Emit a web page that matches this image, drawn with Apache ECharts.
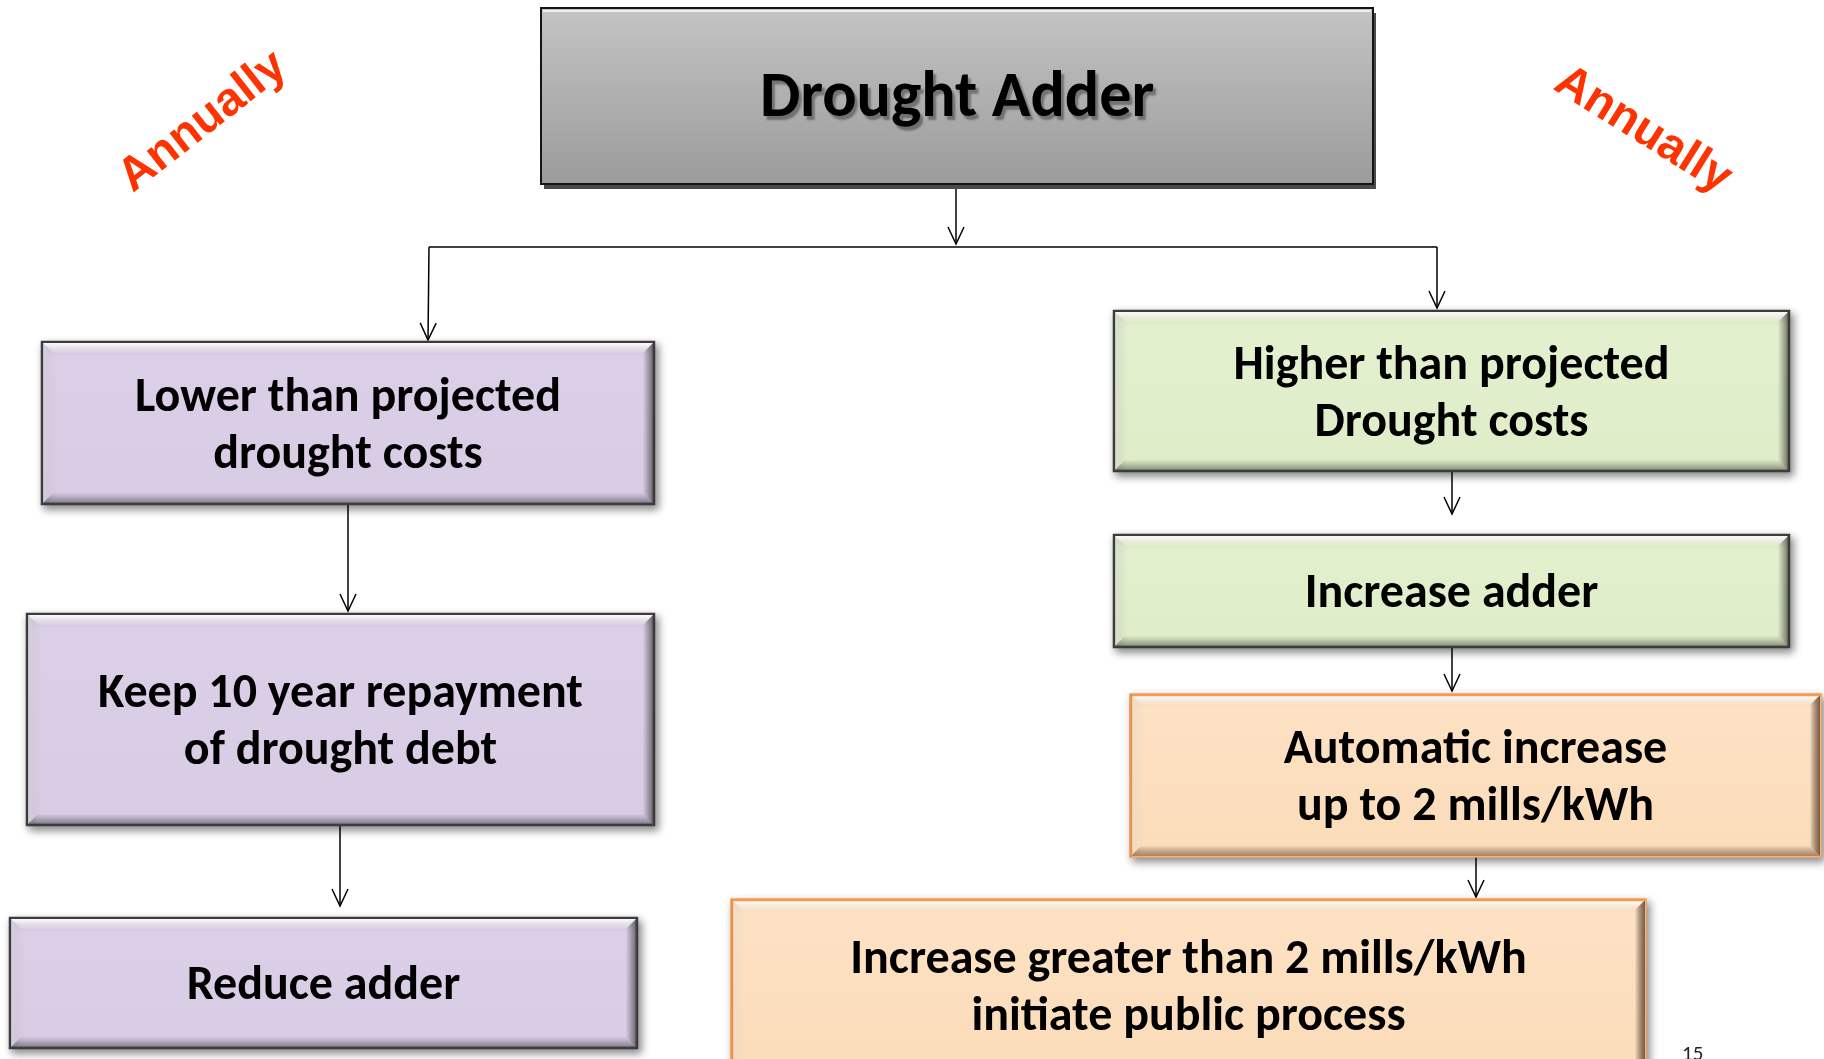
<!DOCTYPE html>
<html><head><meta charset="utf-8">
<script src="https://cdn.jsdelivr.net/npm/echarts@6/dist/echarts.min.js"></script>
<style>html,body{margin:0;padding:0;background:#fff}#c{width:1824px;height:1059px}</style>
</head><body><div id="c"></div>
<script>
// ---- content ----
const nodeTexts = [
  'Drought Adder',
  'Lower than projected\ndrought costs',
  'Keep 10 year repayment\nof drought debt',
  'Reduce adder',
  'Higher than projected\nDrought costs',
  'Increase adder',
  'Automatic increase\nup to 2 mills/kWh',
  'Increase greater than 2 mills/kWh\ninitiate public process'
];
const nodeKinds = ['title', 'lower', 'lower', 'lower', 'higher', 'higher', 'auto', 'auto'];
const noteTexts = ['Annually', 'Annually'];
const pageLabel = '15';

// ---- layout (chart units = pixels of the 1824x1059 canvas) ----
const boxLeft   = [541,   42,  27,  10, 1114, 1114, 1130,  731];
const boxTop    = [  8,  342, 614, 918,  311,  535,  694,  899];
const boxRight  = [1373, 654, 654, 637, 1789, 1789, 1821, 1646];
const boxBottom = [184,  504, 825, 1048, 471,  647,  857, 1071];
const connectorPaths = [
  [[956, 184], [956, 244]],
  [[429, 247], [1437, 247]],
  [[429, 247], [428, 340]],
  [[1437, 247], [1437, 308]],
  [[348, 504], [348, 611]],
  [[340, 825], [340, 906]],
  [[1452, 471], [1452, 514]],
  [[1452, 647], [1452, 691]],
  [[1476, 857], [1476, 897]]
];
const connectorArrow = [true, false, true, true, true, true, true, true, true];
const notePos = [[203, 122], [1643, 130]];
const noteAngle = [38, -32];
const pagePos = [1682, 1044];

const FONT = 'Carlito, Lato, "Open Sans", sans-serif';
const styles = {
  title:  { fill: ['#c4c4c4', '#9b9b9b'], stroke: '#151515' },
  lower:  { fill: ['#dcd0e8', '#d8cbe4'], stroke: '#3c3c3c' },
  higher: { fill: ['#e4f1cf', '#dfecc8'], stroke: '#3c3c3c' },
  auto:   { fill: ['#fde2c4', '#fbdcba'], stroke: '#f2a765' }
};

function lg(x0, y0, x1, y1, c0, c1) {
  return new echarts.graphic.LinearGradient(x0, y0, x1, y1, [{offset: 0, color: c0}, {offset: 1, color: c1}]);
}

function renderBox(params, api) {
  const i = api.value(4);
  const a = api.coord([api.value(0), api.value(1)]);
  const b = api.coord([api.value(2), api.value(3)]);
  const x0 = a[0], y0 = a[1], x1 = b[0], y1 = b[1];
  const w = x1 - x0, h = y1 - y0;
  const kind = nodeKinds[i];
  const st = styles[kind];
  const children = [];
  const cx = (x0 + x1) / 2, cy = (y0 + y1) / 2;
  if (kind === 'title') {
    children.push({type: 'rect', shape: {x: x0 + 3, y: y0 + 5, width: w, height: h}, style: {fill: '#4a4a4a'}});
    children.push({type: 'rect', shape: {x: x0, y: y0, width: w, height: h},
      style: {fill: lg(0, 0, 0, 1, st.fill[0], st.fill[1]), stroke: st.stroke, lineWidth: 2}});
    children.push({type: 'line', shape: {x1: x0 + 2, y1: y0 + 3, x2: x1 - 2, y2: y0 + 3}, style: {stroke: 'rgba(255,255,255,0.7)', lineWidth: 2}});
    children.push({type: 'text', style: {text: nodeTexts[i], x: cx, y: cy + 4, align: 'center', verticalAlign: 'middle',
      fontFamily: FONT, fontWeight: 'bold', fontSize: 64, fill: '#000',
      textShadowColor: 'rgba(0,0,0,0.35)', textShadowOffsetX: 3, textShadowOffsetY: 4, textShadowBlur: 2}});
    return {type: 'group', children};
  }
  const bv = 11;
  children.push({type: 'rect', shape: {x: x0, y: y0, width: w, height: h},
    style: {fill: lg(0, 0, 0, 1, st.fill[0], st.fill[1]), stroke: st.stroke, lineWidth: kind === 'auto' ? 1.5 : 2.5,
      shadowBlur: 8, shadowColor: 'rgba(0,0,0,0.45)', shadowOffsetX: 3, shadowOffsetY: 4}});
  // bevel: top
  children.push({type: 'polygon', shape: {points: [[x0 + 1, y0 + 1], [x1 - 1, y0 + 1], [x1 - bv, y0 + bv], [x0 + bv, y0 + bv]]},
    style: {fill: lg(0, 0, 0, 1, 'rgba(255,255,255,0.95)', 'rgba(255,255,255,0.15)')}});
  // left
  children.push({type: 'polygon', shape: {points: [[x0 + 1, y0 + 1], [x0 + bv, y0 + bv], [x0 + bv, y1 - bv], [x0 + 1, y1 - 1]]},
    style: {fill: lg(0, 0, 1, 0, 'rgba(255,255,255,0.35)', 'rgba(255,255,255,0.05)')}});
  // right
  children.push({type: 'polygon', shape: {points: [[x1 - 1, y0 + 1], [x1 - 1, y1 - 1], [x1 - bv, y1 - bv], [x1 - bv, y0 + bv]]},
    style: {fill: lg(1, 0, 0, 0, kind === 'auto' ? 'rgba(90,50,20,0.75)' : 'rgba(0,0,0,0.45)', 'rgba(0,0,0,0.02)')}});
  // bottom
  children.push({type: 'polygon', shape: {points: [[x0 + 1, y1 - 1], [x1 - 1, y1 - 1], [x1 - bv, y1 - bv], [x0 + bv, y1 - bv]]},
    style: {fill: lg(0, 1, 0, 0, kind === 'auto' ? 'rgba(120,70,30,0.55)' : 'rgba(0,0,0,0.35)', 'rgba(0,0,0,0.02)')}});
  if (kind === 'auto') {
    children.push({type: 'line', shape: {x1: x0, y1: y0 + 1, x2: x1, y2: y0 + 1}, style: {stroke: '#f49a4e', lineWidth: 2.5}});
    children.push({type: 'line', shape: {x1: x0 + 1, y1: y0, x2: x0 + 1, y2: y1}, style: {stroke: '#e8924a', lineWidth: 2.5}});
  }
  children.push({type: 'text', style: {text: nodeTexts[i], x: cx, y: cy + 4, align: 'center', verticalAlign: 'middle',
    fontFamily: FONT, fontWeight: 'bold', fontSize: 48, lineHeight: 57, fill: '#000'}});
  return {type: 'group', children};
}

function renderConnector(params, api) {
  const k = api.value(0);
  const pts = connectorPaths[k].map(p => api.coord(p));
  const children = [{type: 'polyline', shape: {points: pts}, style: {stroke: '#000', lineWidth: 1.5, fill: null}}];
  if (connectorArrow[k]) {
    const e = pts[pts.length - 1], s = pts[pts.length - 2];
    const dx = e[0] - s[0], dy = e[1] - s[1];
    const len = Math.hypot(dx, dy);
    const ux = dx / len, uy = dy / len;
    const al = 17, aw = 8;
    const bx = e[0] - ux * al, by = e[1] - uy * al;
    children.push({type: 'polyline', shape: {points: [[bx - uy * aw, by + ux * aw], e, [bx + uy * aw, by - ux * aw]]},
      style: {stroke: '#000', lineWidth: 1.5, fill: null}});
  }
  return {type: 'group', children};
}

function renderNote(params, api) {
  const k = api.value(0);
  const p = api.coord(notePos[k]);
  return {type: 'text', x: p[0], y: p[1], rotation: noteAngle[k] * Math.PI / 180,
    style: {text: noteTexts[k], x: 0, y: 0, align: 'center', verticalAlign: 'middle',
      fontFamily: '"Liberation Sans", Arial, sans-serif', fontWeight: 'bold', fontSize: 47, fill: '#ff3300'}};
}

function renderPage(params, api) {
  const p = api.coord(pagePos);
  return {type: 'text', style: {text: pageLabel, x: p[0], y: p[1], align: 'left', verticalAlign: 'top',
    fontFamily: FONT, fontSize: 21, fill: '#222'}};
}

const chart = echarts.init(document.getElementById('c'), null, {renderer: 'canvas'});
chart.setOption({
  animation: false,
  backgroundColor: '#ffffff',
  grid: {left: 0, right: 0, top: 0, bottom: 0},
  xAxis: {type: 'value', min: 0, max: 1824, show: false},
  yAxis: {type: 'value', min: 0, max: 1059, inverse: true, show: false},
  series: [
    {type: 'custom', name: 'connectors', clip: false, renderItem: renderConnector, z: 1,
      data: connectorPaths.map((c, k) => [k, c[0][0], c[0][1]])},
    {type: 'custom', name: 'boxes', clip: false, renderItem: renderBox, z: 2,
      encode: {x: 0, y: 1},
      data: nodeTexts.map((t, i) => [boxLeft[i], boxTop[i], boxRight[i], boxBottom[i], i])},
    {type: 'custom', name: 'notes', clip: false, renderItem: renderNote, z: 3,
      data: noteTexts.map((t, k) => [k, notePos[k][0], notePos[k][1]])},
    {type: 'custom', name: 'page', clip: false, renderItem: renderPage, z: 3,
      data: [[0, pagePos[0], pagePos[1]]]}
  ]
});
</script></body></html>
